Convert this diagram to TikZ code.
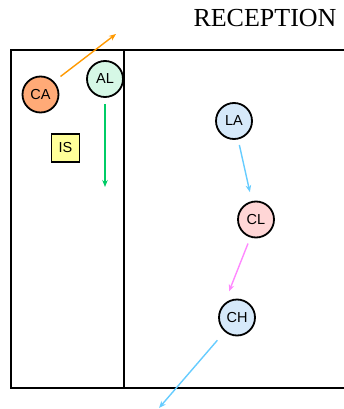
\documentclass[tikz,border=0pt]{standalone}
\usepackage{fontspec}
\setmainfont{Liberation Serif}
\newfontfamily\labfont{Liberation Sans}
\usetikzlibrary{arrows.meta,calc}
\definecolor{caFill}{HTML}{FFAA77}
\definecolor{alFill}{HTML}{D6F8E6}
\definecolor{isFill}{HTML}{FFFF99}
\definecolor{blueFill}{HTML}{D6E9FA}
\definecolor{clFill}{HTML}{FFD6D6}
\definecolor{orangeArr}{HTML}{FF9900}
\definecolor{greenArr}{HTML}{00CC66}
\definecolor{blueArr}{HTML}{66CCFF}
\definecolor{pinkArr}{HTML}{FF88FF}
\tikzset{
  person/.style={circle,draw=black,line width=1.8pt,minimum size=36pt,inner sep=0pt,font=\labfont\fontsize{14.5}{14.5}\selectfont},
  itemsq/.style={rectangle,draw=black,line width=1.8pt,minimum size=28pt,inner sep=0pt,fill=isFill,font=\labfont\fontsize{14.5}{14.5}\selectfont},
  wall/.style={line width=2pt,black},
  flow/.style={line width=1.4pt,-{Stealth[length=7pt,width=5.5pt]}}
}
\begin{document}
\begin{tikzpicture}[x=1pt,y=-1pt]
\useasboundingbox (0,0) rectangle (344,409);
\node[font=\fontsize{26}{26}\selectfont] (title) at (265,18) {RECEPTION};
\coordinate (tl) at (11,50);
\coordinate (tr) at (345,50);
\coordinate (bl) at (11,388);
\coordinate (br) at (345,388);
\coordinate (dt) at (124,50);
\coordinate (db) at (124,388);
\draw[wall] (tr) -- (tl) -- (bl) -- (br);
\draw[wall] (dt) -- (db);
\node[person,fill=caFill] (CA) at (40.5,94.5) {CA};
\node[person,fill=alFill] (AL) at (105,79) {AL};
\node[itemsq] (IS) at (65.5,148) {IS};
\node[person,fill=blueFill] (LA) at (234,121) {LA};
\node[person,fill=clFill] (CL) at (256,219.5) {CL};
\node[person,fill=blueFill] (CH) at (237,317.5) {CH};
\coordinate (caEnd) at (116,34);
\coordinate (alEnd) at (105,187);
\coordinate (chEnd) at (159,408);
\draw[flow,orangeArr] ($(CA)+(20,-18)$) -- (caEnd);
\draw[flow,greenArr] ($(AL)+(0,25)$) -- (alEnd);
\draw[flow,blueArr] ($(LA)!24.5pt!(CL)$) -- ($(CL)!28pt!(LA)$);
\draw[flow,pinkArr] ($(CL)+(-8,24)$) -- ($(CH)+(-8,-26)$);
\draw[flow,blueArr] ($(CH)!30pt!(chEnd)$) -- (chEnd);
\end{tikzpicture}
\end{document}
